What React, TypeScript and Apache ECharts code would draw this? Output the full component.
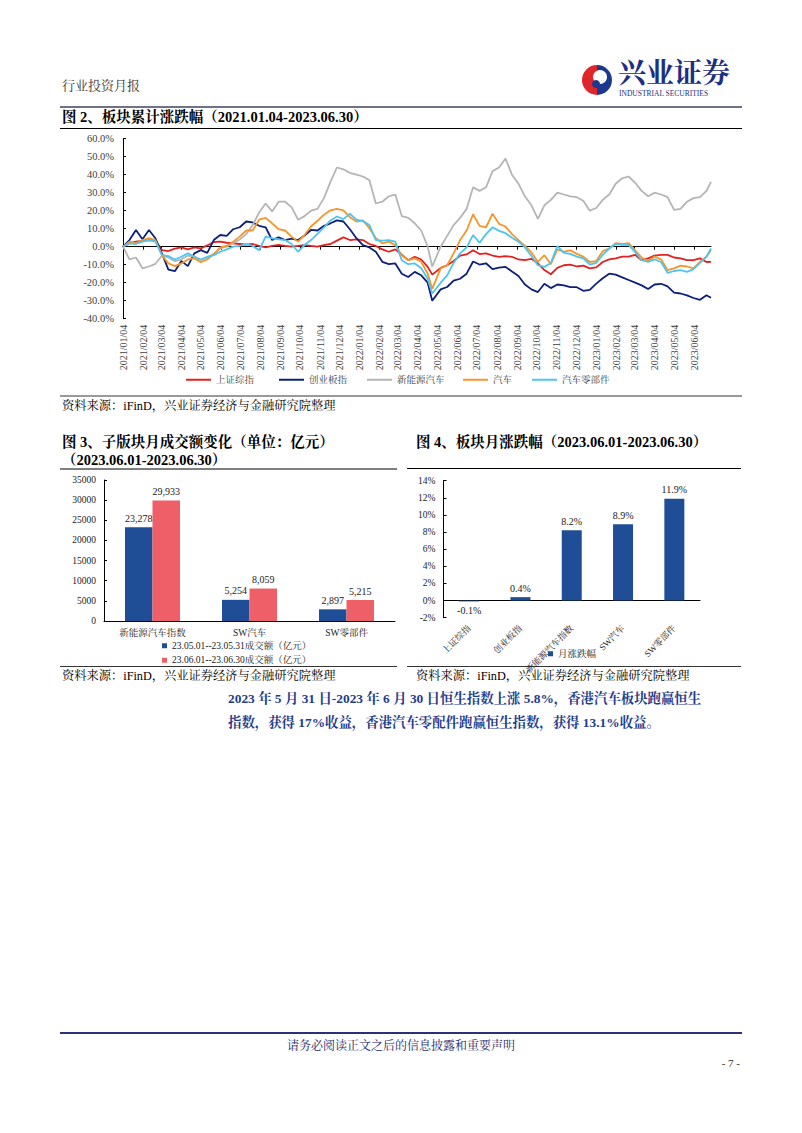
import React, { useEffect, useRef } from "react";
import * as echarts from "echarts";

// ---------- Figure 2 data (cumulative change, %) ----------
const sampleDates = [
  "2021-01-04","2021-01-14","2021-01-24","2021-02-03","2021-02-13","2021-02-23","2021-03-05","2021-03-15","2021-03-25","2021-04-04",
  "2021-04-14","2021-04-24","2021-05-04","2021-05-14","2021-05-24","2021-06-03","2021-06-13","2021-06-23","2021-07-03","2021-07-13",
  "2021-07-23","2021-08-02","2021-08-12","2021-08-22","2021-09-01","2021-09-11","2021-09-21","2021-10-01","2021-10-11","2021-10-21",
  "2021-10-31","2021-11-10","2021-11-20","2021-11-30","2021-12-10","2021-12-20","2021-12-30","2022-01-09","2022-01-19","2022-01-29",
  "2022-02-08","2022-02-18","2022-02-28","2022-03-10","2022-03-20","2022-03-30","2022-04-09","2022-04-19","2022-04-26","2022-05-09",
  "2022-05-19","2022-05-29","2022-06-08","2022-06-18","2022-06-28","2022-07-08","2022-07-18","2022-07-28","2022-08-07","2022-08-17",
  "2022-08-27","2022-09-06","2022-09-16","2022-09-26","2022-10-06","2022-10-16","2022-10-26","2022-11-05","2022-11-15","2022-11-25",
  "2022-12-05","2022-12-15","2022-12-25","2023-01-04","2023-01-14","2023-01-24","2023-02-03","2023-02-13","2023-02-23","2023-03-05",
  "2023-03-15","2023-03-25","2023-04-04","2023-04-14","2023-04-24","2023-05-04","2023-05-14","2023-05-24","2023-06-03","2023-06-13",
  "2023-06-23","2023-06-30"
];

const szzs = [
  0, 1.9, 2.8, 3.2, 3.7, 3.4,
  -1.9, -2.4, -1.1, -0.4, -1.5, -0.4, -0.9, 0.7, 2.6, 2.8,
  2.2, 1.9, 1.5, 1.1, 1.5, 0.4, -0.4, 0.4, 1, 0.4,
  0, 0.4, 0.9, 0.4, 0, 0.9, 1.5, 3.4, 5.2, 3.7,
  4.1, 3.7, 1.5, 0.4, -1.5, -2.8, -1.5, -4.5, -7.5, -5.6,
  -7.1, -11.2, -15.5,
  -11.8, -10.3, -7.9, -5, -4.3, -2, -4.1, -3.7, -4.9, -5.6,
  -5.2, -5.6, -7.1, -7.5, -6.7, -9.3, -13, -15.3, -11.8, -10.3,
  -10, -11, -10.5, -12, -11.5, -8.5, -7, -6.5, -5.5, -5.5,
  -4.5, -7.5, -6.5, -5, -4.5, -4.5, -6, -6.5, -7.5, -7.5,
  -6.5, -8.5, -8.4
];

const cybz = [
  0, 3.7, 9.3, 4.1, 9.3, 4.7,
  -3.7, -12.7, -13.6, -7.9, -10.8, -3.7, -1.9, -3.4, 3.7, 6.5,
  6.0, 9.7, 10.8, 14, 13.5, 11.6, 10.8, 3.7, 5.2, 3.7,
  4.5, 3.7, 6.2, 9.3, 9, 11.6, 13, 14.6, 14, 9.7,
  4.7, 0.9, -0.4, -2.8, -8.4, -9.7, -9.3, -15, -16.8, -14,
  -15.9, -20, -30,
  -23.7, -22.4, -18.9, -17.8, -15, -8.2, -9.9, -9.2, -12.5, -11.6,
  -11.2, -13.8, -16.3, -21, -23.7, -25.2, -20.6, -23, -21, -21.5,
  -22.5, -22.5, -24.5, -24, -20.5, -17.5, -15, -15.5, -17, -18.5,
  -20, -21.5, -23.5, -21, -20.6, -22, -25.5, -26, -27, -28.5,
  -29.5, -27, -28.4
];

const xnyqc = [
  0, -7, -6, -12, -11, -9.5,
  -5, -6, -8, -7, -5, -5.5, -7.5, -6, -4, -1,
  0, 2, 4, 7, 12, 19, 24, 19.6, 25, 25,
  22, 15, 17, 20, 21, 27, 36, 44, 43, 41,
  40, 39, 37, 24, 25, 28, 29, 17, 16, 13,
  9, 0, -11,
  0, 6, 12, 16, 21, 33, 31, 33, 42, 44,
  49, 40, 35, 28, 23, 15.5, 23, 26, 30, 29,
  28, 27.5, 25.5, 20, 21.5, 26, 29, 35, 38, 39,
  35.5, 31, 28, 30, 29, 27.5, 20.5, 21, 25, 27,
  27.5, 31, 36
];

const qc = [
  0, 2.8, 1.9, 3.7, 4.7, 3.7,
  -4.7, -9.3, -10.8, -9.3, -7.1, -6.5, -8.6, -7.1, -4.1, -0.4,
  0.4, 2.8, 5.6, 9, 9, 15, 16, 13, 9.7, 9,
  5.6, 2.8, 6.5, 11.2, 14.4, 17.8, 20.2, 21, 20.2, 16.4,
  14, 14.6, 10.3, 4.7, 1.9, 2.8, 0.9, -4.7, -7.5, -6.5,
  -8.4, -15, -23.4,
  -12, -10.3, -3.7, 3.7, 9, 18, 11.6, 10.8, 18.3, 12.7,
  11.2, 7, 3.7, 0.4, -3.2, -8.4, -4.7, -9.7, -1.5, -2.8,
  -2, -4, -5.5, -8.5, -8, -2.5, -1, 2, 1.5, 2,
  -2, -6, -8, -5.5, -7, -13, -12, -10.5, -11, -12,
  -8.5, -5.5, -2
];

const qclbj = [
  0, 1.9, 1.5, 2.8, 3.7, 2.8,
  -4.7, -5.2, -7.1, -5.6, -3.7, -5.6, -7.1, -5.6, -4.7, -2.8,
  -1.5, 0, 0.4, 1.5, 0.4, -1.9, 5.6, 4.7, 4.1, 3.7,
  1.5, -2.8, 0.9, 3.7, 7.1, 10.8, 14.6, 16.8, 15.3, 18.3,
  15, 14.2, 12.1, 3.7, 3.4, 3.7, 2.8, -7.5, -9.7, -9.3,
  -12, -17.8, -26,
  -20, -15.9, -9, -3.7, -0.4, 6.4, 2.2, 7, 10.8, 8.8,
  7.5, 5, 2.8, -0.4, -5.2, -10.3, -11.2, -9, 0.4, -3.4,
  -4, -5.5, -6.5, -10, -9, -4.5, -1, 1.5, 1, 1,
  -3, -7.5, -8.5, -7, -8.5, -14.5, -13.5, -13, -14, -12.5,
  -9, -5.5, -1
];

const lineNames = ["上证综指", "创业板指", "新能源汽车", "汽车", "汽车零部件"];
const lineColors = ["#e3211f", "#0d1f7c", "#b5b5b5", "#f7952a", "#4dc5f0"];

const monthTicks = [
  "2021/01/04","2021/02/04","2021/03/04","2021/04/04","2021/05/04","2021/06/04","2021/07/04","2021/08/04",
  "2021/09/04","2021/10/04","2021/11/04","2021/12/04","2022/01/04","2022/02/04","2022/03/04","2022/04/04",
  "2022/05/04","2022/06/04","2022/07/04","2022/08/04","2022/09/04","2022/10/04","2022/11/04","2022/12/04",
  "2023/01/04","2023/02/04","2023/03/04","2023/04/04","2023/05/04","2023/06/04"
];
const axisStart = "2021/01/04";
const axisEnd = "2023/06/30";

// ---------- Figure 3 data (turnover, 亿元) ----------
const volCategories = ["新能源汽车指数", "SW汽车", "SW零部件"];
const volNames = ["23.05.01--23.05.31成交额（亿元）", "23.06.01--23.06.30成交额（亿元）"];
const volMay = [23278, 5254, 2897];
const volJun = [29933, 8059, 5215];

// ---------- Figure 4 data (monthly change, %) ----------
const retCategories = ["上证综指", "创业板指", "新能源汽车指数", "SW汽车", "SW零部件"];
const retName = "月涨跌幅";
const retJun = [-0.1, 0.4, 8.2, 8.9, 11.9];

const SERIF = "'Times New Roman', 'Liberation Serif', 'Noto Serif CJK SC', 'Noto Sans CJK SC', serif";

const DAY = 86400000;
function ts(s: string): number {
  const [y, m, d] = s.split(/[-/]/).map(Number);
  return Date.UTC(y, m - 1, d);
}
// day offset from the axis start
function dayOf(s: string): number {
  return Math.round((ts(s) - ts(axisStart)) / DAY);
}
function fmtDay(v: number): string {
  const d = new Date(ts(axisStart) + Math.round(v) * DAY);
  const mm = String(d.getUTCMonth() + 1).padStart(2, "0");
  const dd = String(d.getUTCDate()).padStart(2, "0");
  return `${d.getUTCFullYear()}/${mm}/${dd}`;
}

export default function App() {
  const ref = useRef<HTMLDivElement>(null);

  useEffect(() => {
    if (!ref.current) return;
    const chart = echarts.init(ref.current, null, { renderer: "svg", width: 802, height: 1133 });
    const tickDays = monthTicks.map(dayOf);
    const endDay = dayOf(axisEnd);
    const lineData = [szzs, cybz, xnyqc, qc, qclbj];
    const legendLefts = [186, 279, 367, 463, 532];

    const txt = (text: string, x: number, y: number, size: number, opt: any = {}) => ({
      type: "text",
      x,
      y,
      silent: true,
      style: {
        text,
        fontSize: size,
        fontFamily: opt.family || SERIF,
        fontWeight: opt.weight || "normal",
        fill: opt.color || "#000",
        align: opt.align || "left",
        verticalAlign: "middle",
      },
    });
    const ln = (x1: number, y1: number, x2: number, y2: number, color: string, w: number) => ({
      type: "line",
      silent: true,
      shape: { x1, y1, x2, y2 },
      style: { stroke: color, lineWidth: w },
    });

    const option: any = {
      animation: false,
      backgroundColor: "#ffffff",
      textStyle: { fontFamily: SERIF },
      grid: [
        { left: 123, top: 138.7, width: 588, height: 180, outerBoundsMode: "none" },
        { left: 104, top: 480, width: 291, height: 141, outerBoundsMode: "none" },
        { left: 443.5, top: 480.7, width: 256.5, height: 137, outerBoundsMode: "none" },
      ],
      xAxis: [
        {
          type: "value", gridIndex: 0, min: 0, max: endDay,
          axisLine: { show: true, onZero: true, lineStyle: { color: "#000", width: 1 } },
          axisTick: { show: true, customValues: tickDays, length: 3, lineStyle: { color: "#000" } },
          axisLabel: { show: false },
          splitLine: { show: false },
        },
        {
          type: "value", gridIndex: 0, min: 0, max: endDay, position: "bottom",
          axisLine: { show: false, onZero: false },
          axisTick: { show: false },
          axisLabel: {
            show: true, customValues: tickDays, rotate: 90, margin: 6, fontSize: 10,
            color: "#404040", fontFamily: SERIF, formatter: (v: number) => fmtDay(v),
            showMinLabel: true, showMaxLabel: true,
          },
          splitLine: { show: false },
        },
        {
          type: "category", gridIndex: 1, data: volCategories,
          axisLine: { show: true, lineStyle: { color: "#000", width: 1 } },
          axisTick: { show: false },
          axisLabel: { fontSize: 9.5, color: "#222", margin: 7, fontFamily: SERIF },
        },
        {
          type: "category", gridIndex: 2, data: retCategories,
          axisLine: { show: true, onZero: true, lineStyle: { color: "#000", width: 1 } },
          axisTick: { show: false },
          axisLabel: { fontSize: 9, color: "#222", rotate: 45, margin: 9, interval: 0, fontFamily: SERIF },
        },
      ],
      yAxis: [
        {
          type: "value", gridIndex: 0, min: -40, max: 60, interval: 10,
          axisLine: { show: true, lineStyle: { color: "#000", width: 1 } },
          axisTick: { show: true, inside: true, length: 3, lineStyle: { color: "#000" } },
          axisLabel: { formatter: (v: number) => v.toFixed(1) + "%", fontSize: 10.5, color: "#404040", margin: 9 },
          splitLine: { show: false },
        },
        {
          type: "value", gridIndex: 1, min: 0, max: 35000, interval: 5000,
          axisLine: { show: true, lineStyle: { color: "#000", width: 1 } },
          axisTick: { show: true, inside: true, length: 3, lineStyle: { color: "#000" } },
          axisLabel: { fontSize: 9.5, color: "#222", margin: 8, formatter: (v: number) => String(v) },
          splitLine: { show: false },
        },
        {
          type: "value", gridIndex: 2, min: -2, max: 14, interval: 2,
          axisLine: { show: true, lineStyle: { color: "#000", width: 1 } },
          axisTick: { show: true, inside: true, length: 3, lineStyle: { color: "#000" } },
          axisLabel: { formatter: (v: number) => v + "%", fontSize: 9.5, color: "#222", margin: 8 },
          splitLine: { show: false },
        },
      ],
      legend: [
        ...lineNames.map((n, i) => ({
          data: [n], left: legendLefts[i], top: 375, icon: "rect", itemWidth: 25, itemHeight: 2,
          itemGap: 3, padding: 0, selectedMode: false,
          textStyle: { fontSize: 9.5, color: "#404040", fontFamily: SERIF },
        })),
        {
          data: volNames, left: 162, top: 641, orient: "vertical", icon: "rect", itemWidth: 5, itemHeight: 5,
          itemGap: 5, padding: 0, selectedMode: false,
          textStyle: { fontSize: 9.5, color: "#222", fontFamily: SERIF },
        },
        {
          data: [retName], left: 548, top: 649, icon: "rect", itemWidth: 5, itemHeight: 5,
          padding: 0, selectedMode: false,
          textStyle: { fontSize: 9.5, color: "#222", fontFamily: SERIF },
        },
      ],
      series: [
        ...lineNames.map((n, i) => ({
          name: n, type: "line", xAxisIndex: 0, yAxisIndex: 0, symbol: "none", showSymbol: false,
          color: lineColors[i], lineStyle: { width: 1.8, color: lineColors[i] },
          data: sampleDates.map((d, k) => [dayOf(d), lineData[i][k]]),
          z: 2 + i,
        })),
        {
          name: volNames[0], type: "bar", xAxisIndex: 2, yAxisIndex: 1, data: volMay,
          color: "#1f4e97", barWidth: 27.5, barGap: "0%",
          label: { show: true, position: "top", distance: 4, fontSize: 10, color: "#222", fontFamily: SERIF,
            formatter: (p: any) => Number(p.value).toLocaleString("en-US") },
        },
        {
          name: volNames[1], type: "bar", xAxisIndex: 2, yAxisIndex: 1, data: volJun,
          color: "#ef5f67", barWidth: 27.5, barGap: "0%",
          label: { show: true, position: "top", distance: 4, fontSize: 10, color: "#222", fontFamily: SERIF,
            formatter: (p: any) => Number(p.value).toLocaleString("en-US") },
        },
        {
          name: retName, type: "bar", xAxisIndex: 3, yAxisIndex: 2,
          data: retJun.map((v) => (v < 0 ? { value: v, label: { position: "bottom", distance: 4 } } : v)),
          color: "#1f4e97", barWidth: 20,
          label: { show: true, position: "top", distance: 4, fontSize: 10, color: "#222", fontFamily: SERIF,
            formatter: (p: any) => Number(p.value).toFixed(1) + "%" },
        },
      ],
      graphic: {
        elements: [
          // header
          txt("行业投资月报", 62, 85, 13, { color: "#333" }),
          { type: "sector", silent: true, shape: { cx: 597, cy: 80, r: 15, r0: 0, startAngle: Math.PI * 0.5, endAngle: Math.PI * 1.5 }, style: { fill: "#e0262b" } },
          { type: "sector", silent: true, shape: { cx: 597, cy: 80, r: 15, r0: 0, startAngle: -Math.PI * 0.5, endAngle: Math.PI * 0.5 }, style: { fill: "#1b3a8f" } },
          { type: "circle", silent: true, shape: { cx: 600, cy: 77, r: 7 }, style: { fill: "#ffffff" } },
          { type: "circle", silent: true, shape: { cx: 596, cy: 84, r: 4 }, style: { fill: "#1b3a8f" } },
          txt("兴业证券", 618, 73.5, 28, { color: "#1c2f84", weight: "bold" }),
          txt("INDUSTRIAL SECURITIES", 619, 93.5, 7.5, { color: "#1c2f84" }),
          ln(60, 107, 742, 107, "#6e7284", 2),
          // figure 2
          txt("图 2、板块累计涨跌幅（2021.01.04-2023.06.30）", 62, 117, 14.5, { weight: "bold" }),
          ln(60, 128.5, 742, 128.5, "#000", 1),
          ln(60, 396, 742, 396, "#000", 0.8),
          txt("资料来源：iFinD，兴业证券经济与金融研究院整理", 62, 406, 12.25),
          // figure 3 / 4 titles
          txt("图 3、子版块月成交额变化（单位：亿元）", 62, 441.5, 14.5, { weight: "bold" }),
          txt("（2023.06.01-2023.06.30）", 62, 460, 14.5, { weight: "bold" }),
          ln(60, 469, 397, 469, "#000", 1),
          txt("图 4、板块月涨跌幅（2023.06.01-2023.06.30）", 416, 441.5, 14.5, { weight: "bold" }),
          ln(407, 468.5, 741, 468.5, "#000", 1),
          ln(60, 666.5, 397, 666.5, "#000", 0.8),
          ln(407, 666.5, 741, 666.5, "#000", 0.8),
          txt("资料来源：iFinD，兴业证券经济与金融研究院整理", 62, 676, 12.25),
          txt("资料来源：iFinD，兴业证券经济与金融研究院整理", 416, 676, 12.25),
          // paragraph
          txt("2023 年 5 月 31 日-2023 年 6 月 30 日恒生指数上涨 5.8%，香港汽车板块跑赢恒生", 228, 698, 13.4, { weight: "bold", color: "#1f3c8c" }),
          txt("指数，获得 17%收益，香港汽车零配件跑赢恒生指数，获得 13.1%收益。", 228, 722, 13.4, { weight: "bold", color: "#1f3c8c" }),
          // footer
          ln(60, 1033, 742, 1033, "#2b3272", 2),
          txt("请务必阅读正文之后的信息披露和重要声明", 401, 1046, 12, { align: "center", color: "#1e2a6a" }),
          txt("- 7 -", 740, 1063, 11, { align: "right", color: "#333" }),
        ],
      },
    };

    chart.setOption(option);
    return () => chart.dispose();
  }, []);

  return <div ref={ref} style={{ position: "absolute", left: 0, top: 0, width: 802, height: 1133, background: "#fff" }} />;
}
